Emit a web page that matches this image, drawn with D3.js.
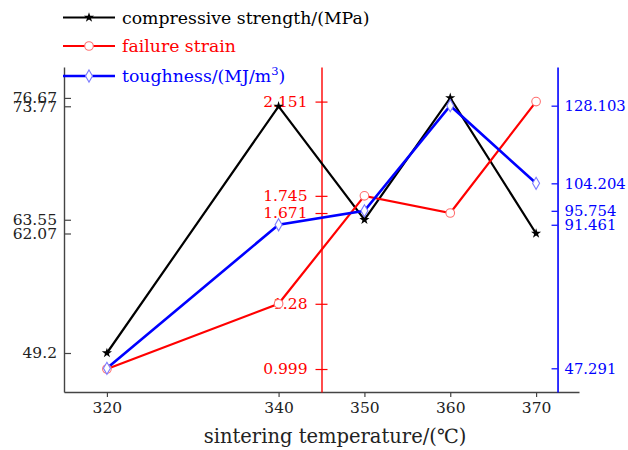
<!DOCTYPE html>
<html><head><meta charset="utf-8">
<script src="https://cdn.jsdelivr.net/npm/d3@7"></script>
<style>body{margin:0;background:#fff}svg{display:block}</style>
</head><body>
<svg id="c" width="628" height="450"></svg>
<script>
const temps = [320, 340, 350, 360, 370];
const strength = [49.2, 75.77, 63.55, 76.67, 62.07];
const strain = [0.999, 1.28, 1.745, 1.671, 2.151];
const toughness = [47.291, 91.461, 95.754, 128.103, 104.204];
const xTicks = [320, 340, 350, 360, 370];
const leftTickVals = [49.2, 62.07, 63.55, 75.77, 76.67];
const leftTickLabels = ["49.2", "62.07", "63.55", "73.77", "76.67"];
const redTicks = [0.999, 1.28, 1.671, 1.745, 2.151];
const blueTicks = [47.291, 91.461, 95.754, 104.204, 128.103];

const svg = d3.select("#c");
const FONT = "DejaVu Serif";
const pTop = 67, pBottom = 392, pLeft = 64, pRight = 579;
const x = d3.scaleLinear().domain([315, 375]).range([pLeft, pRight]);
const yL = d3.scaleLinear().domain([45, 80]).range([pBottom, pTop]);
const yR = d3.scaleLinear().domain([0.9, 2.3]).range([pBottom, pTop]);
const yB = d3.scaleLinear().domain([40, 140]).range([pBottom, pTop]);

function style(g, col, fs) {
  g.selectAll("path.domain").attr("stroke", col).attr("stroke-width", 1.4);
  g.selectAll(".tick line").attr("stroke", col).attr("stroke-width", 1.2);
  g.selectAll(".tick text").attr("fill", col).attr("font-family", FONT).attr("font-size", fs);
}

// bottom axis
const gx = svg.append("g").attr("transform", `translate(0,${pBottom})`)
  .call(d3.axisBottom(x).tickValues(xTicks).tickFormat(d3.format("d")).tickSizeInner(5).tickSizeOuter(0).tickPadding(5));
style(gx, "#444", 15.5);
gx.selectAll(".tick text").attr("fill", "#222");

// left axis
const gl = svg.append("g").attr("transform", `translate(${pLeft},0)`)
  .call(d3.axisLeft(yL).tickValues(leftTickVals).tickFormat((d, i) => leftTickLabels[i]).tickSizeInner(-7).tickSizeOuter(0).tickPadding(7));
style(gl, "#444", 15.5);
gl.selectAll(".tick text").attr("fill", "#222");

// red axis
const xRed = x(345);
const gr = svg.append("g").attr("transform", `translate(${xRed},0)`)
  .call(d3.axisLeft(yR).tickValues(redTicks).tickFormat(d => String(d)).tickSizeInner(6).tickSizeOuter(0).tickPadding(8));
style(gr, "#ff0000", 15.5);
gr.selectAll(".tick line").attr("x1", 6).attr("x2", -6);

// blue axis
const xBlue = x(372.5);
const gb = svg.append("g").attr("transform", `translate(${xBlue},0)`)
  .call(d3.axisRight(yB).tickValues(blueTicks).tickFormat(d => String(d)).tickSizeInner(-6).tickSizeOuter(0).tickPadding(7));
style(gb, "#0000ff", 14.8);
gb.selectAll("path.domain").attr("stroke-width", 1.6);
gb.selectAll(".tick line").attr("x2", -6);

// lines
const series = [
  {vals: strength, y: yL, col: "#000", w: 2.2, m: "star"},
  {vals: strain, y: yR, col: "#ff0000", w: 2.2, m: "circle"},
  {vals: toughness, y: yB, col: "#0000ff", w: 2.6, m: "diamond"}
];
series.forEach(s => {
  svg.append("path").datum(temps.map((t, i) => [t, s.vals[i]]))
    .attr("fill", "none").attr("stroke", s.col).attr("stroke-width", s.w)
    .attr("d", d3.line().x(d => x(d[0])).y(d => s.y(d[1])));
});
function marker(g, type, cx, cy) {
  if (type === "star") {
    g.append("path").attr("d", d3.symbol(d3.symbolStar, 32)()).attr("transform", `translate(${cx},${cy})`).attr("fill", "#000");
  } else if (type === "circle") {
    g.append("circle").attr("cx", cx).attr("cy", cy).attr("r", 4.3).attr("fill", "#fff").attr("stroke", "#ff7070").attr("stroke-width", 1.1);
  } else {
    g.append("path").attr("d", d3.symbol(d3.symbolDiamond, 42)()).attr("transform", `translate(${cx},${cy})`).attr("fill", "#fff").attr("stroke", "#7a7aff").attr("stroke-width", 1.1);
  }
}
const mg = svg.append("g");
series.forEach(s => {
  temps.forEach((t, i) => marker(mg, s.m, x(t), s.y(s.vals[i])));
});

// legend
const legendNames = ["compressive strength/(MPa)", "failure strain", "toughness/(MJ/m"];
const legendY = [17.5, 46, 76];
const lg = svg.append("g");
series.forEach((s, i) => {
  lg.append("line").attr("x1", 63).attr("x2", 115).attr("y1", legendY[i]).attr("y2", legendY[i]).attr("stroke", s.col).attr("stroke-width", s.w);
  marker(lg, s.m, 89, legendY[i]);
  const t = lg.append("text").attr("x", 122).attr("y", legendY[i]).attr("dy", "0.36em")
    .attr("font-family", FONT).attr("font-size", 17.3).attr("fill", s.col).text(legendNames[i]);
  if (i === 2) {
    t.append("tspan").attr("font-size", 11.5).attr("dy", "-0.6em").text("3");
    t.append("tspan").attr("dy", "0.4em").text(")");
  }
});

// x title
svg.append("text").attr("x", 335).attr("y", 443).attr("text-anchor", "middle")
  .attr("font-family", FONT).attr("font-size", 19.5).attr("fill", "#222").text("sintering temperature/(℃)");
</script>
</body></html>
